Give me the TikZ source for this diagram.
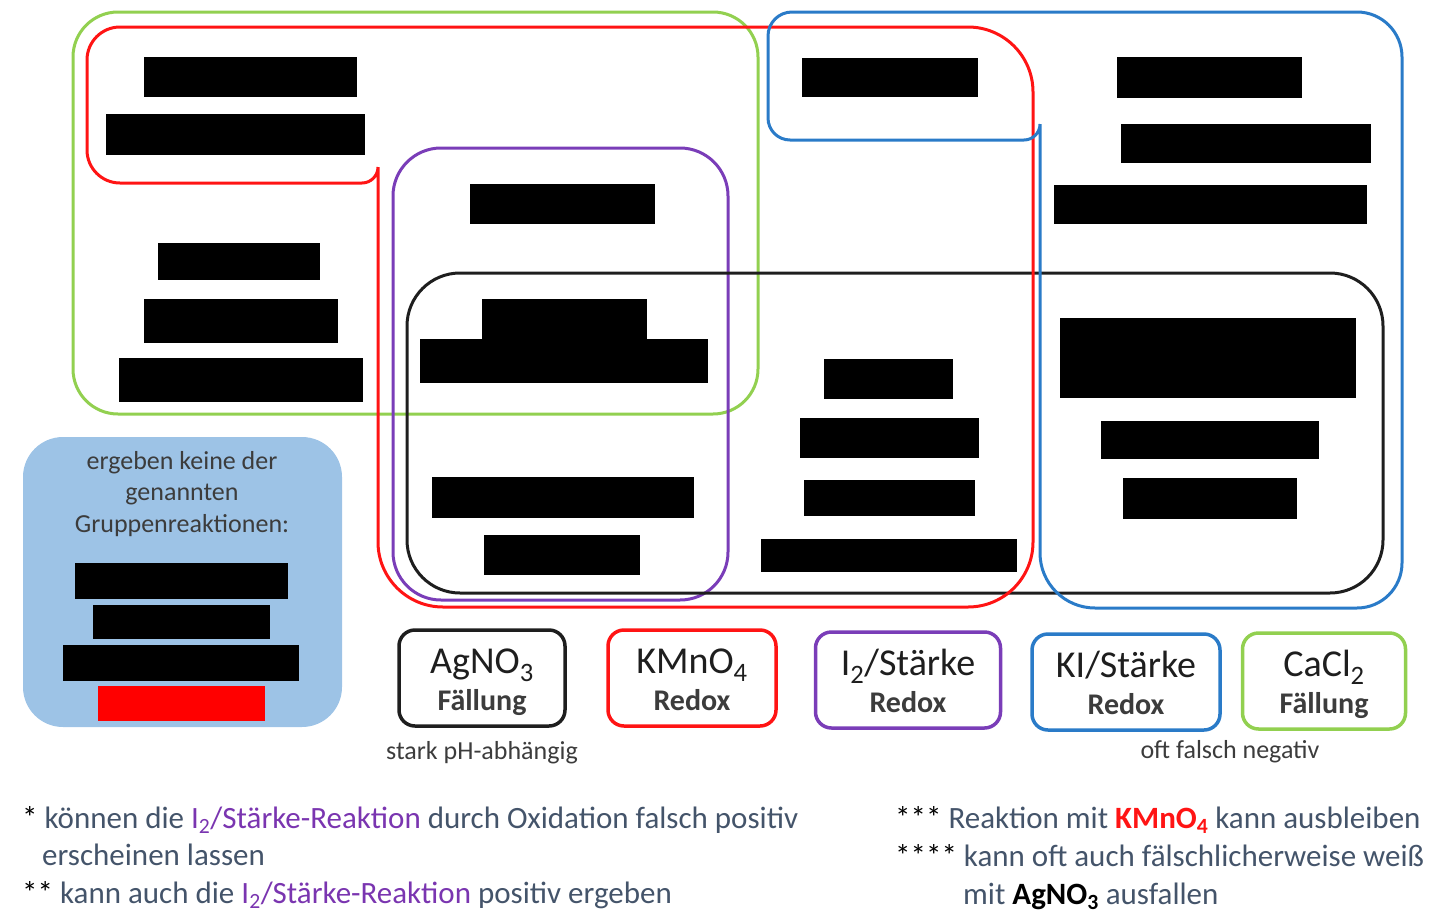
\documentclass[tikz,border=0pt]{standalone}
\usepackage{fontspec}
\setmainfont{Carlito}
\usepackage{xcolor}
\usetikzlibrary{positioning}

\definecolor{grpgreen}{HTML}{92D050}
\definecolor{grpred}{HTML}{FF1414}
\definecolor{grppurple}{HTML}{7A3DB8}
\definecolor{grpblue}{HTML}{2A7BC8}
\definecolor{grpblack}{HTML}{1E1E1E}
\definecolor{nofill}{HTML}{9DC3E6}
\definecolor{txtgray}{HTML}{3C3C3C}
\definecolor{notegray}{HTML}{44546A}
\definecolor{notepurple}{HTML}{7A35B0}

\begin{document}
\begin{tikzpicture}[x=1pt, y=-1pt,
  ring/.style={line width=3pt, line join=round},
  legbox/.style={draw, line width=3.5pt, rounded corners=16pt, minimum height=96pt},
  legname/.style={anchor=base, inner sep=0pt, text=grpblack, font=\fontsize{38}{38}\selectfont},
  legkind/.style={anchor=base, inner sep=0pt, text=txtgray, font=\bfseries\fontsize{30}{30}\selectfont},
  graynote/.style={text=txtgray, font=\fontsize{26}{31.5}\selectfont, align=center},
  footnote/.style={anchor=base west, inner sep=0pt, text=notegray,
                   font=\fontsize{31}{31}\selectfont}]
  \useasboundingbox (0,0) rectangle (1440,921);

  % box for the ones without reaction
  \fill[nofill, rounded corners=40pt] (23,437) rectangle (342,727);

  % group outlines
  \draw[ring, grpgreen, rounded corners=45pt] (73,12) rectangle (758,414);
  \draw[ring, grppurple, rounded corners=48pt] (393,148) rectangle (728,600);
  \draw[ring, grpblack, rounded corners=53pt] (407,273) rectangle (1383,593);
  \draw[ring, grpred] (378,167) -- (378,542) arc[start angle=180, end angle=90, radius=65]
    -- (968,607) arc[start angle=90, end angle=0, radius=65]
    -- (1033,92) arc[start angle=0, end angle=-90, radius=65]
    -- (120,27) arc[start angle=-90, end angle=-180, radius=33]
    -- (87,150) arc[start angle=180, end angle=90, radius=33]
    -- (362,183) arc[start angle=90, end angle=0, radius=16];
  \draw[ring, grpblue] (1040,124) -- (1040,553) arc[start angle=180, end angle=90, radius=55]
    -- (1357,608) arc[start angle=90, end angle=0, radius=45]
    -- (1402,57) arc[start angle=0, end angle=-90, radius=45]
    -- (792,12) arc[start angle=-90, end angle=-180, radius=24]
    -- (768,118) arc[start angle=180, end angle=90, radius=22]
    -- (1024,140) arc[start angle=90, end angle=0, radius=16];

  % redacted entries
  \foreach \xa/\ya/\xb/\yb in {144/57/357/97, 106/114/365/155, 158/243/320/280,
      144/299/338/343, 119/358/363/402, 470/184/655/224, 482/299/647/340,
      420/339/708/383, 432/477/694/518, 484/535/640/575, 824/359/953/399,
      800/418/979/458, 804/480/975/516, 761/539/1017/572, 802/58/978/97,
      1117/57/1302/98, 1121/124/1371/163, 1054/185/1367/224, 1060/318/1356/398,
      1101/421/1319/459, 1123/478/1297/519, 75/563/288/599, 93/605/270/639,
      63/645/299/681}
    \fill[black] (\xa,\ya) rectangle (\xb,\yb);
  \fill[red] (98,686) rectangle (265,721);

  \node[graynote] (notxt) at (182,494) {ergeben keine der\\ genannten\\ Gruppenreaktionen:};

  % legend
  \node[legbox, draw=grpblack, minimum width=166pt] (ag) at (482,678) {};
  \node[legbox, draw=grpred, minimum width=168pt] (km) at (692,678) {};
  \node[legbox, draw=grppurple, minimum width=185pt] (io) at (908,680) {};
  \node[legbox, draw=grpblue, minimum width=188pt] (ki) at (1126,682) {};
  \node[legbox, draw=grpgreen, minimum width=163pt] (ca) at (1324,681) {};
  \node[legname, yshift=5pt] (agname) at (ag.center) {AgNO\textsubscript{3}};
  \node[legkind, yshift=-32pt] (agkind) at (ag.center) {Fällung};
  \node[legname, yshift=5pt] (kmname) at (km.center) {KMnO\textsubscript{4}};
  \node[legkind, yshift=-32pt] (kmkind) at (km.center) {Redox};
  \node[legname, yshift=5pt] (ioname) at (io.center) {I\textsubscript{2}/Stärke};
  \node[legkind, yshift=-32pt] (iokind) at (io.center) {Redox};
  \node[legname, yshift=5pt] (kiname) at (ki.center) {KI/Stärke};
  \node[legkind, yshift=-32pt] (kikind) at (ki.center) {Redox};
  \node[legname, yshift=5pt] (caname) at (ca.center) {CaCl\textsubscript{2}};
  \node[legkind, yshift=-32pt] (cakind) at (ca.center) {Fällung};
  \node[graynote, below=10pt of ag] (agnote) {stark pH-abhängig};
  \node[graynote] (kinote) at (1230,752) {oft falsch negativ};

  % footnotes
  \node[footnote] (fn1) at (22,828) {{\color{black}*} können die \textcolor{notepurple}{I\textsubscript{2}/Stärke-Reaktion} durch Oxidation falsch positiv};
  \node[footnote] (fn1b) at (42,865) {erscheinen lassen};
  \node[footnote] (fn2) at (22,903) {{\color{black}**} kann auch die \textcolor{notepurple}{I\textsubscript{2}/Stärke-Reaktion} positiv ergeben};
  \node[footnote] (fn3) at (895,828) {{\color{black}***} Reaktion mit \textcolor{grpred}{\bfseries KMnO\textsubscript{4}} kann ausbleiben};
  \node[footnote] (fn4) at (895,866) {{\color{black}****} kann oft auch fälschlicherweise weiß};
  \node[footnote] (fn4b) at (963,904) {mit {\color{black}\bfseries AgNO\textsubscript{3}} ausfallen};
\end{tikzpicture}
\end{document}
